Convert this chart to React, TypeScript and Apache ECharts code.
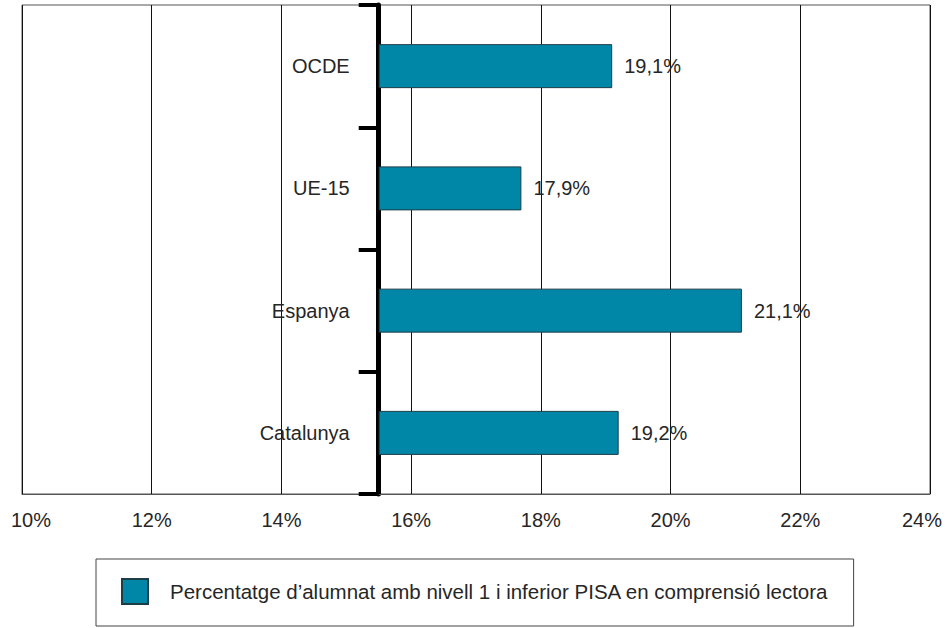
import React, { useEffect, useRef } from "react";
import * as echarts from "echarts";

const categories = ["OCDE", "UE-15", "Espanya", "Catalunya"];
const barValues = [19.1, 17.7, 21.1, 19.2];
const barLabels = ["19,1%", "17,9%", "21,1%", "19,2%"];
const baseValue = 15.5;
const axisMin = 10;
const axisMax = 24;
const axisInterval = 2;
const seriesName = "Percentatge d\u2019alumnat amb nivell 1 i inferior PISA en comprensió lectora";

const FONT = "'Liberation Sans', Arial, sans-serif";
const TEXT = "#262626";
const WIDTH = 952;
const HEIGHT = 628;
const GRID_LEFT = 22;
const GRID_RIGHT = 22;

export default function App() {
  const ref = useRef<HTMLDivElement>(null);
  useEffect(() => {
    if (!ref.current) return;
    const chart = echarts.init(ref.current, undefined, { renderer: "svg" });
    const plotWidth = WIDTH - GRID_LEFT - GRID_RIGHT;
    const axisShift = ((baseValue - axisMin) / (axisMax - axisMin)) * plotWidth;
    chart.setOption({
      animation: false,
      textStyle: { fontFamily: FONT },
      grid: {
        left: GRID_LEFT,
        right: GRID_RIGHT,
        top: 5,
        bottom: 134,
        show: true,
        borderColor: "#555",
        borderWidth: 1,
        containLabel: false,
        outerBoundsMode: "none",
      },
      legend: {
        left: 96,
        top: 559,
        orient: "horizontal",
        itemWidth: 26,
        itemHeight: 25,
        padding: [19, 25, 21, 25],
        borderColor: "#444",
        borderWidth: 1,
        textStyle: { fontSize: 20.5, color: TEXT, fontFamily: FONT, padding: [0, 0, 0, 17] },
        data: [{ name: seriesName, icon: "rect" }],
      },
      xAxis: [
        {
          type: "value",
          min: axisMin,
          max: axisMax,
          interval: axisInterval,
          axisLine: { show: true, lineStyle: { color: "#555", width: 1 } },
          axisTick: { show: false },
          splitLine: { show: true, lineStyle: { color: "#111", width: 1 } },
          axisLabel: {
            fontSize: 20,
            color: TEXT,
            margin: 16,
            fontFamily: FONT,
            formatter: (v: number) => {
              if (v === axisMin) return `{first|${v}%}`;
              if (v === axisMax) return `{last|${v}%}`;
              return `${v}%`;
            },
            rich: {
              first: { fontSize: 20, color: TEXT, fontFamily: FONT, padding: [0, 0, 0, 18] },
              last: { fontSize: 20, color: TEXT, fontFamily: FONT, padding: [0, 16, 0, 0] },
            },
          },
        },
        {
          type: "value",
          min: axisMin - baseValue,
          max: axisMax - baseValue,
          show: false,
          splitLine: { show: false },
        },
      ],
      yAxis: {
        type: "category",
        data: categories,
        inverse: true,
        boundaryGap: true,
        offset: -axisShift,
        axisLine: {
          show: true,
          onZero: false,
          lineStyle: { color: "#000", width: 5 },
        },
        axisTick: { show: true, length: 20, lineStyle: { color: "#000", width: 4 } },
        axisLabel: { fontSize: 20, color: TEXT, margin: 29, fontFamily: FONT },
        splitLine: { show: false },
      },
      series: [
        {
          name: seriesName,
          type: "bar",
          xAxisIndex: 1,
          barWidth: 44,
          data: barValues.map((v) => +(v - baseValue).toFixed(2)),
          itemStyle: { color: "#0087A8", borderColor: "#1d3d47", borderWidth: 1 },
          label: {
            show: true,
            position: "right",
            distance: 12,
            fontSize: 20,
            color: TEXT,
            fontFamily: FONT,
            formatter: (p: any) => barLabels[p.dataIndex],
          },
        },
      ],
    });
    return () => chart.dispose();
  }, []);
  return <div ref={ref} style={{ width: WIDTH, height: HEIGHT, position: "absolute", left: 0, top: 0 }} />;
}
